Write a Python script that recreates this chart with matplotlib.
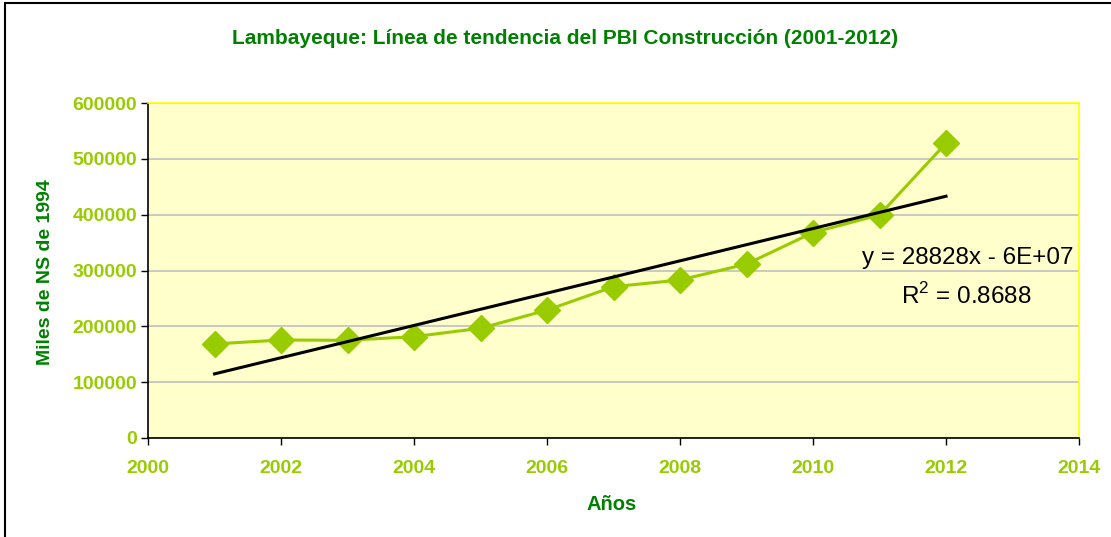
import numpy as np
import matplotlib
matplotlib.use("Agg")
import matplotlib.pyplot as plt
from matplotlib.patches import Rectangle

years = [2001, 2002, 2003, 2004, 2005, 2006, 2007, 2008, 2009, 2010, 2011, 2012]
pbi = [168500, 175500, 175000, 181500, 196500, 229000, 271000, 283000, 311500, 368000, 399500, 528000]
x_ticks = [2000, 2002, 2004, 2006, 2008, 2010, 2012, 2014]
y_ticks = [0, 100000, 200000, 300000, 400000, 500000, 600000]

title = "Lambayeque: Línea de tendencia del PBI Construcción (2001-2012)"
xlabel = "Años"
ylabel = "Miles de NS de 1994"
eq_text = "y = 28828x - 6E+07"
r2_text = "R$^2$ = 0.8688"

plt.rcParams['font.family'] = ['Liberation Sans', 'DejaVu Sans']
plt.rcParams['mathtext.fontset'] = 'custom'
plt.rcParams['mathtext.rm'] = 'Liberation Sans'

W, H = 1111, 537
fig = plt.figure(figsize=(W/100, H/100), dpi=100)
fig.patch.set_facecolor("white")
fig.patches.append(Rectangle((5/W, -0.1), 1.2, 1 - 3/H + 0.1, transform=fig.transFigure,
                             fill=False, edgecolor="black", linewidth=1.5))

ax = fig.add_axes([148/W, 1 - 438/H, (1079 - 148)/W, (438 - 103)/H])
ax.set_facecolor("#FFFFCC")

green = "#99CC00"
dark = "#008000"

ax.plot(years, pbi, color=green, linewidth=2.2, marker="D", markersize=13,
        markerfacecolor=green, markeredgecolor=green, zorder=3)

coef = np.polyfit(years, pbi, 1)
tx = np.array([years[0], years[-1]])
ax.plot(tx, np.polyval(coef, tx), color="black", linewidth=2.2, zorder=4)

ax.set_xlim(2000, 2014)
ax.set_ylim(0, 600000)
ax.set_xticks(x_ticks)
ax.set_yticks(y_ticks)
ax.set_xticklabels([str(v) for v in x_ticks])
ax.set_yticklabels([str(v) for v in y_ticks])
ax.yaxis.grid(True, color="#C0C0C0", linewidth=1.2)
ax.set_axisbelow(True)

for s in ["top", "right"]:
    ax.spines[s].set_color("#FFFF00")
    ax.spines[s].set_linewidth(1.2)
for s in ["left", "bottom"]:
    ax.spines[s].set_color("black")
    ax.spines[s].set_linewidth(1.2)

ax.tick_params(axis="both", direction="out", length=5, width=1, colors="black",
               labelcolor=green, labelsize=14)
ax.tick_params(axis="x", pad=11)
ax.tick_params(axis="y", pad=3)
for lab in ax.get_xticklabels() + ax.get_yticklabels():
    lab.set_fontweight("bold")

fig.text(565/W, 1 - 38/H, title, ha="center", va="center", color=dark,
         fontsize=15, fontweight="bold")
fig.text(612/W, 1 - 505/H, xlabel, ha="center", va="center", color=dark,
         fontsize=14.5, fontweight="bold")
fig.text(46/W, 1 - 272/H, ylabel, ha="center", va="center", color=dark,
         fontsize=14, fontweight="bold", rotation=90)

fig.text(1073/W, 1 - 258/H, eq_text, ha="right", va="center",
         color="black", fontsize=17.5)
fig.text(966/W, 1 - 296/H, r2_text, ha="center", va="center",
         color="black", fontsize=17.5)

fig.savefig("out.png", dpi=100)
